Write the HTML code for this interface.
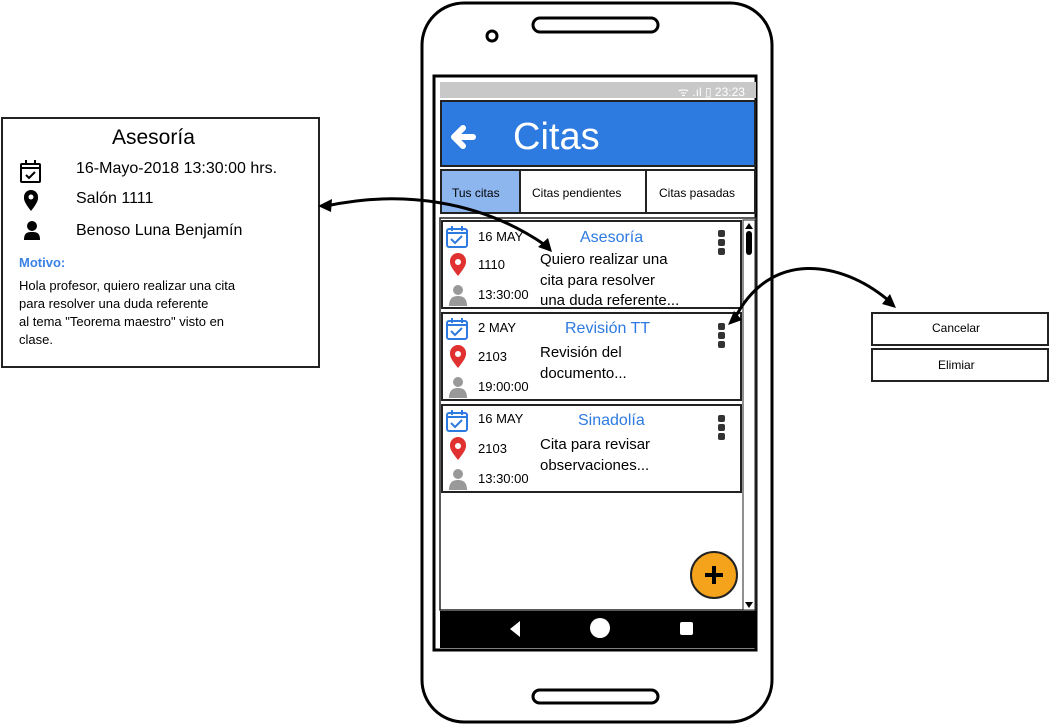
<!DOCTYPE html>
<html><head><meta charset="utf-8"><style>
body{margin:0;width:1050px;height:725px;background:#fff;position:relative;overflow:hidden;font-family:"Liberation Sans",sans-serif;color:#000}
.a{position:absolute}
.t{position:absolute;white-space:nowrap}
</style></head><body>
<svg class="a" style="left:0;top:0" width="1050" height="725">
<rect x="422" y="3" width="350" height="719" rx="42" fill="#fff" stroke="#000" stroke-width="3"/>
<circle cx="492" cy="36" r="5" fill="none" stroke="#000" stroke-width="3"/>
<rect x="533" y="18" width="125" height="14" rx="7" fill="none" stroke="#000" stroke-width="3"/>
<rect x="533" y="690" width="125" height="13" rx="6.5" fill="none" stroke="#000" stroke-width="3"/>
<rect x="434" y="76" width="322" height="574" fill="#fff" stroke="#000" stroke-width="3"/>
<rect x="440" y="82" width="316" height="16" fill="#c8c8c8"/>
<rect x="441" y="101" width="314" height="65" fill="#2d7ae0" stroke="#222" stroke-width="2"/>
<rect x="441" y="170" width="79" height="43" fill="#8db6ef" stroke="#222" stroke-width="2"/>
<rect x="520" y="170" width="126" height="43" fill="#fff" stroke="#222" stroke-width="2"/>
<rect x="646" y="170" width="109" height="43" fill="#fff" stroke="#222" stroke-width="2"/>
<rect x="440" y="218" width="316" height="392" fill="#fff" stroke="#222" stroke-width="1.5"/>
<rect x="743" y="220" width="12" height="390" fill="#fff" stroke="#222" stroke-width="1"/>
<rect x="746" y="231" width="6" height="24" rx="3" fill="#000"/>
<polygon points="745,229 753,229 749,223" fill="#000"/><polygon points="745,602 753,602 749,608" fill="#000"/>
<rect x="442" y="221" width="299" height="87" fill="#fff" stroke="#222" stroke-width="2"/>
<rect x="442" y="313" width="299" height="87" fill="#fff" stroke="#222" stroke-width="2"/>
<rect x="442" y="405" width="299" height="87" fill="#fff" stroke="#222" stroke-width="2"/>
<rect x="440" y="611" width="316" height="37" fill="#000"/>
<polygon points="520,621 520,637 510,629" fill="#fff"/>
<circle cx="600" cy="628" r="10" fill="#fff"/>
<rect x="680" y="622" width="13" height="13" rx="2" fill="#fff"/>
<circle cx="714" cy="575" r="23" fill="#f5a31a" stroke="#222" stroke-width="2"/>
<path d="M714 566v18M705 575h18" stroke="#000" stroke-width="4"/>
<g fill="#333"><rect x="718" y="230" width="7" height="7" rx="2"/><rect x="718" y="239" width="7" height="7" rx="2"/><rect x="718" y="248" width="7" height="7" rx="2"/>
<rect x="718" y="323" width="7" height="7" rx="2"/><rect x="718" y="332" width="7" height="7" rx="2"/><rect x="718" y="341" width="7" height="7" rx="2"/>
<rect x="718" y="415" width="7" height="7" rx="2"/><rect x="718" y="424" width="7" height="7" rx="2"/><rect x="718" y="433" width="7" height="7" rx="2"/></g>
<g id="ic">
<rect x="447" y="229" width="20" height="18" rx="2" fill="none" stroke="#2d7ae0" stroke-width="2"/><path d="M447 233h20M452 226v5M462 226v5M451 239l4 4 7-7" stroke="#2d7ae0" stroke-width="2" fill="none"/>
<path d="M458 276c-8-10-8-12-8-15a8 8 0 0116 0c0 3 0 5-8 15z" fill="#e03030"/><circle cx="458" cy="262" r="3" fill="#fff"/>
<circle cx="458" cy="290" r="5" fill="#999"/><path d="M449 306c0-8 4-10 9-10s9 2 9 10z" fill="#999"/>
</g>
<use href="#ic" y="92"/><use href="#ic" y="184"/>
<path d="M473 137h-17M463 128l-9 9 9 9" stroke="#fff" stroke-width="6" fill="none" stroke-linecap="round" stroke-linejoin="round"/>
<rect x="2" y="118" width="317" height="249" fill="#fff" stroke="#222" stroke-width="2"/>
<rect x="21" y="164" width="19" height="18" rx="1" fill="none" stroke="#000" stroke-width="2"/><path d="M21 168h19M26 160v5M35 160v5M26 175l3 3 6-6" stroke="#000" stroke-width="2" fill="none"/>
<path d="M31 211c-7-9-7-11-7-14a7 7 0 0114 0c0 3 0 5-7 14z" fill="#000"/><circle cx="31" cy="197" r="2.5" fill="#fff"/>
<circle cx="32" cy="226" r="5" fill="#000"/><path d="M24 240c0-7 3-8 8-8s8 1 8 8z" fill="#000"/>
<rect x="872" y="313" width="176" height="32" fill="#fff" stroke="#222" stroke-width="2"/>
<rect x="872" y="349" width="176" height="32" fill="#fff" stroke="#222" stroke-width="2"/>
<path d="M326 206C400 190 480 200 545 245" stroke="#000" stroke-width="3" fill="none"/>
<polygon points="318,206 332,199 331,212" fill="#000"/>
<polygon points="552,252 538,247 548,238" fill="#000"/>
<path d="M735 318C770 250 840 260 888 300" stroke="#000" stroke-width="3" fill="none"/>
<polygon points="728,325 734,311 742,320" fill="#000"/>
<polygon points="896,308 882,304 890,294" fill="#000"/>
</svg>
<div class="t" style="left:678px;top:83px;font-size:12px;color:#fff">ᯤ .ıl ▯ 23:23</div>
<div class="t" style="left:513px;top:116px;font-size:38px;color:#fff">Citas</div>
<div class="t" style="left:452px;top:186px;font-size:12px">Tus citas</div>
<div class="t" style="left:532px;top:186px;font-size:12px">Citas pendientes</div>
<div class="t" style="left:659px;top:186px;font-size:12px">Citas pasadas</div>

<div class="t" style="left:478px;top:229px;font-size:13px">16 MAY</div>
<div class="t" style="left:478px;top:257px;font-size:13px">1110</div>
<div class="t" style="left:478px;top:287px;font-size:13px">13:30:00</div>
<div class="t" style="left:580px;top:229px;font-size:16px;color:#2d7ae0">Asesoría</div>
<div class="a" style="left:540px;top:250px;font-size:15px;line-height:20.5px">Quiero realizar una<br>cita para resolver<br>una duda referente...</div>

<div class="t" style="left:478px;top:320px;font-size:13px">2 MAY</div>
<div class="t" style="left:478px;top:349px;font-size:13px">2103</div>
<div class="t" style="left:478px;top:379px;font-size:13px">19:00:00</div>
<div class="t" style="left:565px;top:320px;font-size:16px;color:#2d7ae0">Revisión TT</div>
<div class="a" style="left:540px;top:343px;font-size:15px;line-height:20.5px">Revisión del<br>documento...</div>

<div class="t" style="left:478px;top:411px;font-size:13px">16 MAY</div>
<div class="t" style="left:478px;top:441px;font-size:13px">2103</div>
<div class="t" style="left:478px;top:471px;font-size:13px">13:30:00</div>
<div class="t" style="left:578px;top:412px;font-size:16px;color:#2d7ae0">Sinadolía</div>
<div class="a" style="left:540px;top:435px;font-size:15px;line-height:20.5px">Cita para revisar<br>observaciones...</div>

<div class="t" style="left:112px;top:126px;font-size:21px">Asesoría</div>
<div class="t" style="left:76px;top:160px;font-size:16px">16-Mayo-2018 13:30:00 hrs.</div>
<div class="t" style="left:76px;top:190px;font-size:16px">Salón 1111</div>
<div class="t" style="left:76px;top:222px;font-size:16px">Benoso Luna Benjamín</div>
<div class="t" style="left:19px;top:255px;font-size:13px;font-weight:bold;color:#3b82e6">Motivo:</div>
<div class="a" style="left:19px;top:277px;font-size:13px;line-height:18px;white-space:nowrap">Hola profesor, quiero realizar una cita<br>para resolver una duda referente<br>al tema "Teorema maestro" visto en<br>clase.</div>

<div class="t" style="left:932px;top:321px;font-size:12px">Cancelar</div>
<div class="t" style="left:938px;top:358px;font-size:12px">Elimiar</div>
</body></html>
